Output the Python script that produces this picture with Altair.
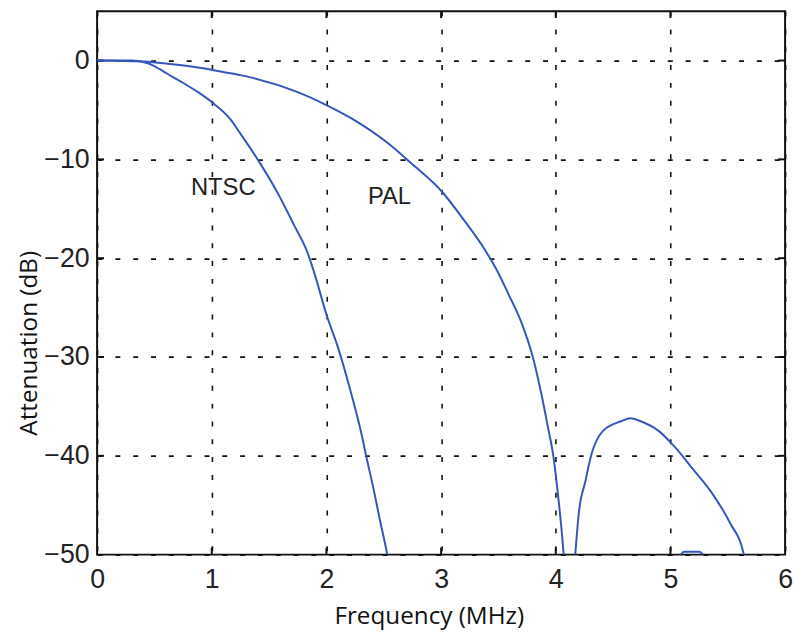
import altair as alt
import pandas as pd

# NTSC response (frequency MHz, attenuation dB)
ntsc_f = [0.0, 0.3, 0.45, 0.55, 0.65, 0.77, 0.88, 1.0, 1.16, 1.25, 1.4, 1.57, 1.72, 1.83, 1.9,
          2.0, 2.1, 2.2, 2.3, 2.35, 2.41, 2.47, 2.53, 2.57]
ntsc_db = [0.0, 0.0, -0.3, -0.9, -1.6, -2.4, -3.2, -4.2, -5.9, -7.4, -10.0, -13.3, -16.7, -19.3, -21.7,
           -25.7, -29.0, -33.0, -37.5, -40.2, -43.3, -46.7, -50.0, -53.0]

# PAL response
pal_f = [0.0, 0.4, 0.68, 0.88, 1.12, 1.26, 1.75, 2.0, 2.24, 2.53, 2.73, 3.01, 3.19, 3.39, 3.49,
         3.59, 3.7, 3.8, 3.87, 3.93, 3.98, 4.02, 4.07, 4.1, 4.14, 4.17, 4.2, 4.26, 4.31, 4.41,
         4.57, 4.65, 4.74, 4.9, 5.03, 5.2, 5.37, 5.52, 5.64, 5.68]
pal_db = [0.0, -0.1, -0.4, -0.7, -1.2, -1.5, -3.2, -4.5, -6.0, -8.3, -10.3, -13.3, -16.0, -19.3, -21.3,
          -23.7, -26.5, -30.0, -33.5, -37.0, -40.1, -44.0, -50.2, -56.0, -54.0, -50.0, -45.9, -42.5, -39.9, -37.5,
          -36.5, -36.2, -36.5, -37.5, -39.0, -41.4, -43.9, -46.8, -50.0, -53.0]

# small third-lobe ripple touching the bottom edge
rip_f = [5.06, 5.12, 5.25, 5.32]
rip_db = [-50.6, -49.7, -49.7, -50.6]

label_text = ["NTSC", "PAL"]
label_f = [1.1, 2.55]
label_db = [-12.9, -13.8]

x_ticks = [0, 1, 2, 3, 4, 5, 6]
y_ticks = [-50, -40, -30, -20, -10, 0]

curves = pd.concat([
    pd.DataFrame({"f": ntsc_f, "db": ntsc_db, "s": "NTSC"}),
    pd.DataFrame({"f": pal_f, "db": pal_db, "s": "PAL"}),
    pd.DataFrame({"f": rip_f, "db": rip_db, "s": "ripple"}),
], ignore_index=True)
labels = pd.DataFrame({"t": label_text, "f": label_f, "db": label_db})

BLUE = "#3557bd"
xs = alt.Scale(domain=[0, 6], nice=False, zero=False)
ys = alt.Scale(domain=[-50, 5], nice=False, zero=False)

xaxis = alt.Axis(values=x_ticks, format="d", title="Frequency (MHz)", grid=True, gridColor="#111",
                 gridDash=[5, 13], gridWidth=1.6, ticks=False, domain=False,
                 labelFont="Liberation Sans", labelFontSize=27, labelColor="#222",
                 labelPadding=12, labelFlush=False,
                 titleFont="Open Sans", titleFontSize=24.5, titleFontWeight="normal",
                 titleColor="#111", titleX=335, titleY=70, titleBaseline="alphabetic",
                 titleAlign="center", titleAnchor="start")
yaxis = alt.Axis(values=y_ticks, format="d", title="Attenuation (dB)", grid=True, gridColor="#111",
                 gridDash=[5, 13], gridWidth=1.6, ticks=False, domain=False,
                 labelFont="Liberation Sans", labelFontSize=27, labelColor="#222",
                 labelPadding=8, labelFlush=False,
                 titleFont="Open Sans", titleFontSize=24.5, titleFontWeight="normal",
                 titleColor="#111", titleX=-68, titleY=335, titleAngle=-90,
                 titleBaseline="middle", titleAlign="center", titleAnchor="start")

lines = alt.Chart(curves).mark_line(clip=True, strokeWidth=2, color=BLUE, interpolate="monotone").encode(
    x=alt.X("f:Q", scale=xs, axis=xaxis),
    y=alt.Y("db:Q", scale=ys, axis=yaxis),
    detail="s:N",
)

text = alt.Chart(labels).mark_text(font="Liberation Sans", fontSize=24, color="#222",
                                   align="center", baseline="middle").encode(
    x=alt.X("f:Q", scale=xs), y=alt.Y("db:Q", scale=ys), text="t:N")

# inward tick marks (MATLAB style)
xt = pd.DataFrame({"f": x_ticks[1:-1]})
yt = pd.DataFrame({"db": y_ticks[1:]})
tick_b = alt.Chart(xt).mark_rule(color="#111", strokeWidth=2).encode(
    x=alt.X("f:Q", scale=xs), y=alt.value(549), y2=alt.value(542))
tick_t = alt.Chart(xt).mark_rule(color="#111", strokeWidth=2).encode(
    x=alt.X("f:Q", scale=xs), y=alt.value(0), y2=alt.value(7))
tick_l = alt.Chart(yt).mark_rule(color="#111", strokeWidth=2).encode(
    y=alt.Y("db:Q", scale=ys), x=alt.value(0), x2=alt.value(7))
tick_r = alt.Chart(yt).mark_rule(color="#111", strokeWidth=2).encode(
    y=alt.Y("db:Q", scale=ys), x=alt.value(695), x2=alt.value(688))

chart = alt.layer(tick_b, tick_t, tick_l, tick_r, lines, text).properties(
    width=695, height=549,
    autosize=alt.AutoSizeParams(type="none"),
    padding={"left": 90, "top": 0, "right": 9, "bottom": 76},
    background="white",
).configure_view(stroke="#111", strokeWidth=2)

chart.save("out.html", embed_options={"renderer": "svg", "actions": False})
